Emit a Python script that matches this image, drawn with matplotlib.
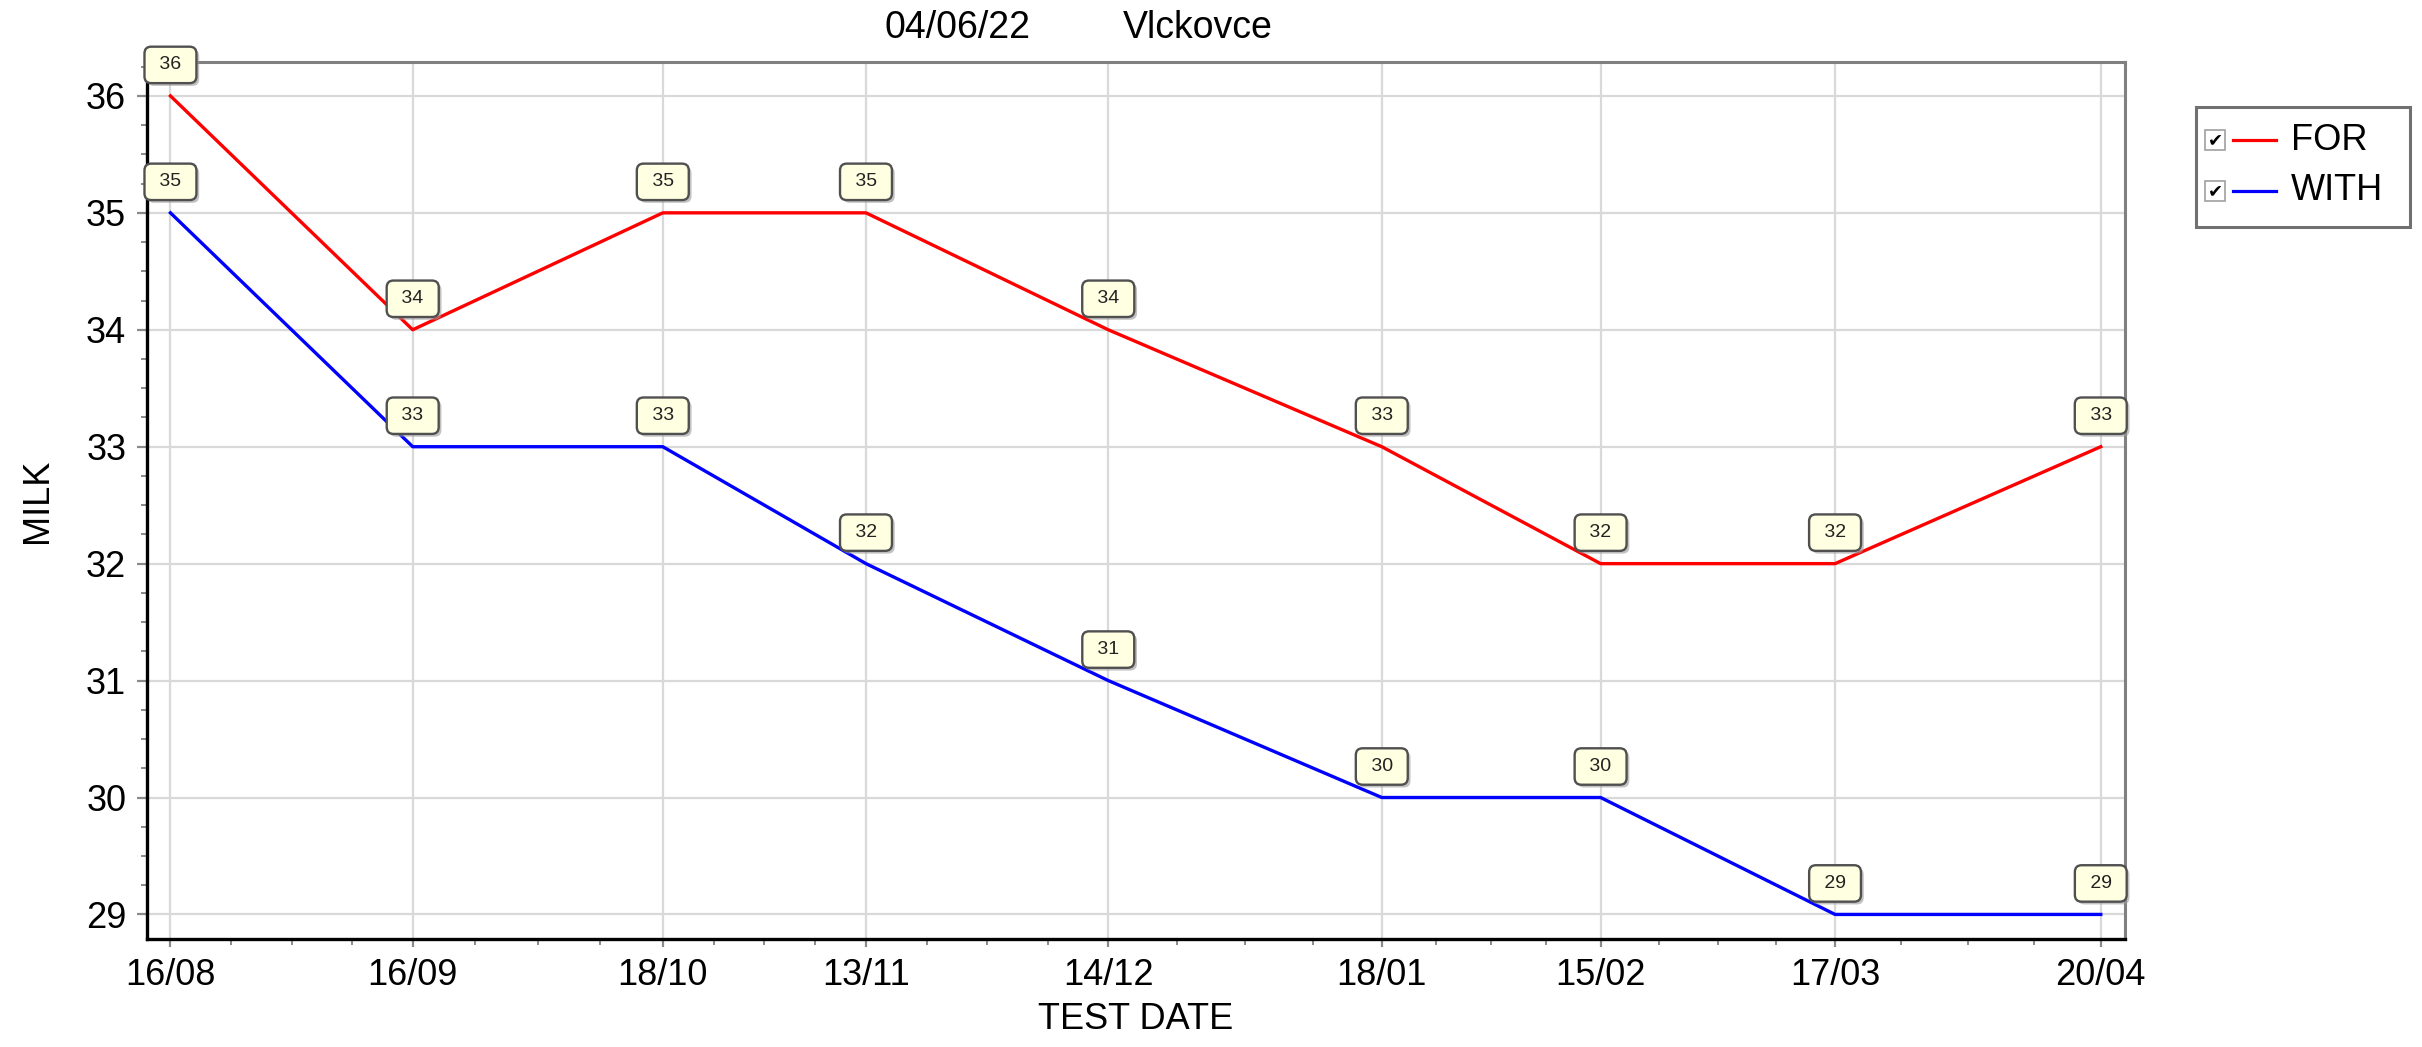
import numpy as np
import matplotlib
matplotlib.use('Agg')
import matplotlib.pyplot as plt
import matplotlib.dates as mdates
from matplotlib.ticker import FixedLocator, MultipleLocator, AutoMinorLocator
from matplotlib.patches import Rectangle
from matplotlib.lines import Line2D
import matplotlib.patheffects as pe

plt.rcParams['font.family'] = ['Liberation Sans', 'DejaVu Sans']

test_dates = np.array(['2021-08-16', '2021-09-16', '2021-10-18', '2021-11-13', '2021-12-14',
                       '2022-01-18', '2022-02-15', '2022-03-17', '2022-04-20'], dtype='datetime64[D]')
tick_labels = ['16/08', '16/09', '18/10', '13/11', '14/12', '18/01', '15/02', '17/03', '20/04']
milk_for = [36, 34, 35, 35, 34, 33, 32, 32, 33]
milk_with = [35, 33, 33, 32, 31, 30, 30, 29, 29]
series = [('FOR', milk_for, '#ff0000'), ('WITH', milk_with, '#0000ff')]

x = mdates.date2num(test_dates.astype('datetime64[s]').astype(object))

fig = plt.figure(figsize=(24.22, 10.47), dpi=100)
ax = fig.add_axes([147/2422, 1-939/1047, (2125-147)/2422, (939-62)/1047])

ax.grid(True, which='major', color='#d9d9d9', lw=1.6, zorder=0)
for name, vals, col in series:
    ax.plot(x, vals, color=col, lw=2.4, zorder=3)
    for xi, v in zip(x, vals):
        ann = ax.annotate(' %d ' % v, (xi, v), xytext=(0, 31), textcoords='offset pixels',
                          ha='center', va='center', fontsize=14, color='#222222', zorder=6,
                          annotation_clip=False,
                          bbox=dict(boxstyle='round,pad=0.5,rounding_size=0.35', fc='#ffffe1',
                                    ec='#505050', lw=1.7))
        ann.get_bbox_patch().set_path_effects([
            pe.SimplePatchShadow(offset=(2, -2), shadow_rgbFace='#9a9a9a', alpha=0.6), pe.Normal()])

ax.set_xlim(x[0] - 3, x[-1] + 3.1)
ax.set_ylim(28.79, 36.29)

ax.xaxis.set_major_locator(FixedLocator(x))
ax.set_xticklabels(tick_labels)
minor = []
for a, b in zip(x[:-1], x[1:]):
    minor += [a + (b - a) * k / 4 for k in (1, 2, 3)]
ax.xaxis.set_minor_locator(FixedLocator(minor))
ax.yaxis.set_major_locator(MultipleLocator(1))
ax.yaxis.set_minor_locator(AutoMinorLocator(4))

ax.tick_params(axis='both', which='major', labelsize=26, color='#8a8a8a', width=1.6, direction='out')
ax.tick_params(axis='x', which='major', length=6, pad=8)
ax.tick_params(axis='y', which='major', length=7, pad=8)
ax.tick_params(axis='both', which='minor', color='#8a8a8a', width=1.4, length=4)

for s in ['left', 'bottom']:
    ax.spines[s].set_color('black')
    ax.spines[s].set_linewidth(2.4)
for s in ['top', 'right']:
    ax.spines[s].set_color('#808080')
    ax.spines[s].set_linewidth(2.2)

ax.set_xlabel('TEST DATE', fontsize=26, labelpad=6)
ax.set_ylabel('MILK', fontsize=26, labelpad=22)

fig.text(884/2422, 1-28/1047, '04/06/22', fontsize=27, ha='left', va='center')
fig.text(1123/2422, 1-28/1047, 'Vlckovce', fontsize=27, ha='left', va='center')

# legend with checkboxes
W, H = 2422, 1047
fig.patches.append(Rectangle((2196/W, 1-227/H), 214/W, 120/H, transform=fig.transFigure,
                             fc='white', ec='#707070', lw=2.2))
for i, (name, vals, col) in enumerate(series):
    yc = 1 - (140 + 51*i)/H
    fig.patches.append(Rectangle((2205/W, yc - 10/H), 20/W, 20/H, transform=fig.transFigure,
                                 fc='white', ec='#a0a0a0', lw=1.2))
    fig.text(2215/W, yc, '\u2714', fontsize=13, ha='center', va='center',
             family='DejaVu Sans')
    fig.lines.append(Line2D([2233/W, 2276/W], [yc, yc], transform=fig.transFigure, color=col, lw=2.3))
    fig.text(2291/W, yc, name, fontsize=26, ha='left', va='center')

fig.savefig('out.png', dpi=100)
